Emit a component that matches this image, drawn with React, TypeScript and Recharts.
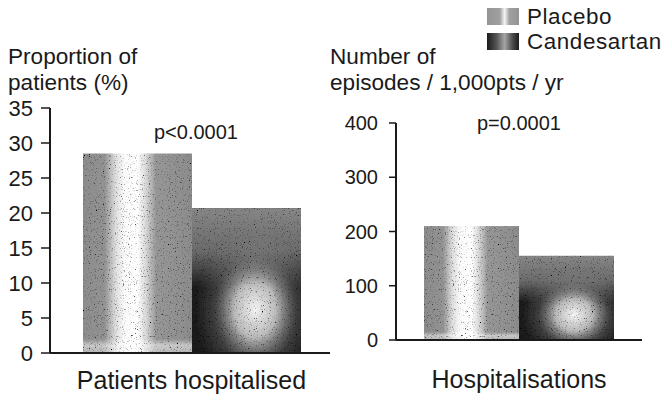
import React from 'react';
import { BarChart, Bar, XAxis, YAxis, ReferenceLine } from 'recharts';

const seriesNames = ['Placebo', 'Candesartan'];

const patientsCategories = ['Patients hospitalised'];
const patientsPlacebo = [28.5];
const patientsCandesartan = [20.7];
const patientsTicks = [0, 5, 10, 15, 20, 25, 30, 35];

const episodesCategories = ['Hospitalisations'];
const episodesPlacebo = [210];
const episodesCandesartan = [155];
const episodesTicks = [0, 100, 200, 300, 400];

const FONT = '"Liberation Sans", Arial, sans-serif';
const INK = '#1a1a1a';
const GREY = '#8c8c8c';

const patientsData = patientsCategories.map((name, i) => ({
  name,
  placebo: patientsPlacebo[i],
  candesartan: patientsCandesartan[i],
}));

const episodesData = episodesCategories.map((name, i) => ({
  name,
  placebo: episodesPlacebo[i],
  candesartan: episodesCandesartan[i],
}));

// scanned-look fills: gradients layered on each bar, plus a little grain
const Fills = ({ id }: { id: string }) => (
  <defs>
    <linearGradient id={`${id}-ph`} x1="0" y1="0" x2="1" y2="0">
      <stop offset="0" stopColor={GREY} />
      <stop offset="0.2" stopColor="#939393" />
      <stop offset="0.3" stopColor="#dedede" />
      <stop offset="0.38" stopColor="#fafafa" />
      <stop offset="0.5" stopColor="#ffffff" />
      <stop offset="0.58" stopColor="#d6d6d6" />
      <stop offset="0.67" stopColor="#979797" />
      <stop offset="1" stopColor={GREY} />
    </linearGradient>
    <linearGradient id={`${id}-pv`} x1="0" y1="0" x2="0" y2="1">
      <stop offset="0" stopColor="#fff" stopOpacity="0" />
      <stop offset="0.93" stopColor="#fff" stopOpacity="0" />
      <stop offset="0.96" stopColor="#fff" stopOpacity="0.5" />
      <stop offset="1" stopColor="#fff" stopOpacity="0.35" />
    </linearGradient>
    <radialGradient id={`${id}-cr`} cx="0.58" cy="0.7" r="0.55">
      <stop offset="0" stopColor="#ffffff" stopOpacity="0.95" />
      <stop offset="0.35" stopColor="#eeeeee" stopOpacity="0.75" />
      <stop offset="0.7" stopColor="#888888" stopOpacity="0.3" />
      <stop offset="1" stopColor="#888888" stopOpacity="0" />
    </radialGradient>
    <linearGradient id={`${id}-cv`} x1="0" y1="0" x2="0" y2="1">
      <stop offset="0" stopColor={GREY} stopOpacity="0.95" />
      <stop offset="0.3" stopColor={GREY} stopOpacity="0.7" />
      <stop offset="0.55" stopColor={GREY} stopOpacity="0" />
      <stop offset="1" stopColor={GREY} stopOpacity="0" />
    </linearGradient>
    <filter id={`${id}-grain`} x="0" y="0" width="100%" height="100%">
      <feTurbulence type="fractalNoise" baseFrequency="0.85" numOctaves="2" seed="4" result="noise" />
      <feColorMatrix
        in="noise"
        type="matrix"
        values="0 0 0 0 0  0 0 0 0 0  0 0 0 0 0  0 0 0 -4 1.6"
        result="specks"
      />
      <feComposite in="specks" in2="SourceGraphic" operator="in" result="clipped" />
      <feMerge>
        <feMergeNode in="SourceGraphic" />
        <feMergeNode in="clipped" />
      </feMerge>
    </filter>
  </defs>
);

const placeboShape = (id: string) => (props: any) => {
  const { x, y, width, height } = props;
  if (!height || height <= 0) return <g />;
  return (
    <g filter={`url(#${id}-grain)`}>
      <rect x={x} y={y} width={width} height={height} fill={`url(#${id}-ph)`} />
      <rect x={x} y={y} width={width} height={height} fill={`url(#${id}-pv)`} />
    </g>
  );
};

const candesartanShape = (id: string) => (props: any) => {
  const { x, y, width, height } = props;
  if (!height || height <= 0) return <g />;
  return (
    <g filter={`url(#${id}-grain)`}>
      <rect x={x} y={y} width={width} height={height} fill="#1c1c1c" />
      <rect x={x} y={y} width={width} height={height} fill={`url(#${id}-cr)`} />
      <rect x={x} y={y} width={width} height={height} fill={`url(#${id}-cv)`} />
    </g>
  );
};

const axisLine = { stroke: INK, strokeWidth: 2 };

const titleStyle: React.CSSProperties = {
  position: 'absolute',
  fontFamily: FONT,
  fontSize: 22.6,
  lineHeight: '25px',
  color: INK,
  whiteSpace: 'nowrap',
};

const LegendBox = () => (
  <div style={{ position: 'absolute', left: 487, top: 4, fontFamily: FONT, fontSize: 22.4, color: INK }}>
    {seriesNames.map((name, i) => (
      <div key={name} style={{ display: 'flex', alignItems: 'center', height: 25 }}>
        <svg width={32} height={17} style={{ marginRight: 8 }}>
          <defs>
            <linearGradient id={`lg${i}`} x1="0" y1="0" x2="1" y2="0">
              {i === 0 ? (
                <>
                  <stop offset="0" stopColor="#949494" />
                  <stop offset="0.4" stopColor="#a0a0a0" />
                  <stop offset="0.55" stopColor="#f4f4f4" />
                  <stop offset="0.7" stopColor="#a0a0a0" />
                  <stop offset="1" stopColor="#949494" />
                </>
              ) : (
                <>
                  <stop offset="0" stopColor="#1a1a1a" />
                  <stop offset="0.3" stopColor="#555" />
                  <stop offset="0.55" stopColor="#a5a5a5" />
                  <stop offset="0.8" stopColor="#4a4a4a" />
                  <stop offset="1" stopColor="#1a1a1a" />
                </>
              )}
            </linearGradient>
          </defs>
          <rect x={0} y={0} width={32} height={17} fill={`url(#lg${i})`} />
        </svg>
        <span style={{ lineHeight: '25px', letterSpacing: 0.6 }}>{name}</span>
      </div>
    ))}
  </div>
);

export default function App() {
  return (
    <div style={{ position: 'absolute', left: 0, top: 0, width: 671, height: 395, background: '#fff', overflow: 'hidden' }}>
      <div style={{ ...titleStyle, left: 8, top: 44 }}>Proportion of</div>
      <div style={{ ...titleStyle, left: 8, top: 70 }}>patients (%)</div>
      <div style={{ ...titleStyle, left: 330, top: 44 }}>Number of</div>
      <div style={{ ...titleStyle, left: 330, top: 70 }}>episodes / 1,000pts / yr</div>
      <LegendBox />

      <div style={{ position: 'absolute', left: 0, top: 0 }}>
        <BarChart
          width={340}
          height={395}
          data={patientsData}
          margin={{ top: 108, right: 10, bottom: 0, left: 0 }}
          barCategoryGap={20}
          barGap={0}
        >
          <Fills id="pl" />
          <XAxis
            dataKey="name"
            axisLine={axisLine}
            tickLine={false}
            tickSize={0}
            tickMargin={18}
            height={42}
            padding={{ left: 13, right: 10 }}
            tick={{ fill: INK, fontSize: 25, fontFamily: FONT }}
          />
          <YAxis
            domain={[0, 35]}
            ticks={patientsTicks}
            width={50}
            axisLine={axisLine}
            tickLine={{ stroke: INK, strokeWidth: 1.5 }}
            tickSize={9}
            tickMargin={8}
            tick={{ fill: INK, fontSize: 22, fontFamily: FONT }}
            interval={0}
          />
          <ReferenceLine
            y={31.6}
            stroke="none"
            label={{ value: 'p<0.0001', position: 'center', dx: 6, fill: INK, fontSize: 20, fontFamily: FONT }}
          />
          <Bar dataKey="placebo" name={seriesNames[0]} isAnimationActive={false} shape={placeboShape('pl')} />
          <Bar dataKey="candesartan" name={seriesNames[1]} isAnimationActive={false} shape={candesartanShape('pl')} />
        </BarChart>
      </div>

      <div style={{ position: 'absolute', left: 330, top: 0 }}>
        <BarChart
          width={341}
          height={395}
          data={episodesData}
          margin={{ top: 123, right: 29, bottom: 0, left: 10 }}
          barCategoryGap={28}
          barGap={0}
        >
          <Fills id="ep" />
          <XAxis
            dataKey="name"
            axisLine={axisLine}
            tickLine={false}
            tickSize={0}
            tickMargin={30}
            height={55}
            tick={{ fill: INK, fontSize: 25, fontFamily: FONT }}
          />
          <YAxis
            domain={[0, 400]}
            ticks={episodesTicks}
            width={56}
            axisLine={axisLine}
            tickLine={{ stroke: INK, strokeWidth: 1.5 }}
            tickSize={7}
            tickMargin={11}
            tick={{ fill: INK, fontSize: 20, fontFamily: FONT }}
            interval={0}
          />
          <ReferenceLine
            y={400}
            stroke="none"
            ifOverflow="visible"
            label={{ value: 'p=0.0001', position: 'center', fill: INK, fontSize: 20, fontFamily: FONT }}
          />
          <Bar dataKey="placebo" name={seriesNames[0]} isAnimationActive={false} shape={placeboShape('ep')} />
          <Bar dataKey="candesartan" name={seriesNames[1]} isAnimationActive={false} shape={candesartanShape('ep')} />
        </BarChart>
      </div>
    </div>
  );
}
